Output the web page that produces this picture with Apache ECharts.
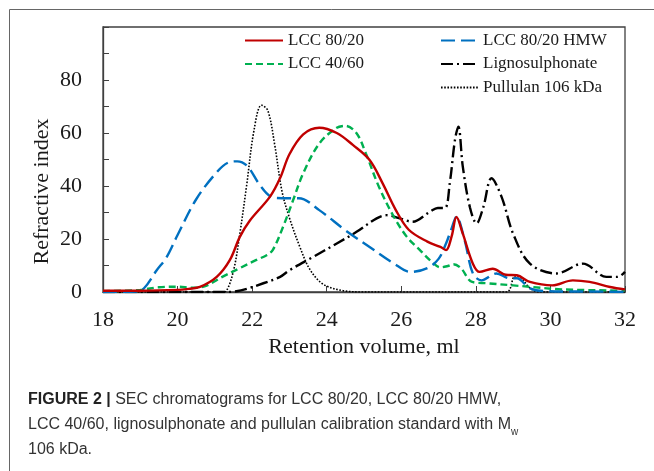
<!DOCTYPE html>
<html>
<head>
<meta charset="utf-8">
<script src="https://cdn.jsdelivr.net/npm/echarts@6/dist/echarts.min.js"></script>
<style>
html,body{margin:0;padding:0;background:#fff;}
#chart{width:654px;height:471px;}
</style>
</head>
<body>
<div id="chart"></div>
<script>
// ---- data ----
var xTicks = [18, 20, 22, 24, 26, 28, 30, 32];
var yTicks = [0, 20, 40, 60, 80];

var lcc8020X = [18, 19, 20, 20.3, 20.6, 21.05, 21.4, 21.67, 21.94, 22.48, 22.75, 23.0, 23.37, 23.8, 24.27, 24.7, 25.15, 25.5, 25.85, 26.2, 26.7, 27.05, 27.2, 27.35, 27.48, 27.65, 27.92, 28.1, 28.45, 28.8, 29.1, 29.45, 30.05, 30.6, 31.05, 31.6, 32];
var lcc8020Y = [0.5, 0.5, 0.8, 1.2, 1.9, 5.7, 12, 20.8, 27, 36, 43, 52, 59.5, 62, 60, 55.5, 49.8, 41, 31, 23.5, 19, 17, 15.8, 21, 28.3, 22, 10.7, 7.6, 8.8, 6.5, 6.3, 3.8, 2.5, 4.4, 3.8, 1.9, 1];

var hmwX = [18, 18.9, 19.1, 19.44, 19.7, 20.0, 20.5, 21.05, 21.35, 21.6, 21.87, 22.2, 22.5, 22.8, 23.25, 23.8, 24.5, 25.15, 25.8, 26.25, 26.7, 27.0, 27.2, 27.35, 27.48, 27.7, 27.92, 28.15, 28.55, 28.9, 29.1, 29.45, 29.9, 30.5, 31, 32];
var hmwY = [0, 0.2, 1.4, 8.2, 13, 21.5, 35, 45.2, 48.8, 49.3, 47.5, 40.5, 36, 35.4, 35.4, 30.9, 23.3, 17, 10.8, 7.6, 9, 12.5, 18.3, 24, 28.4, 19.5, 7, 4.4, 7, 5.2, 5.2, 1.4, 0.3, 0.2, 0.2, 0];

var lcc4060X = [18, 19, 19.5, 20, 20.4, 20.7, 21.2, 21.67, 22.1, 22.4, 22.56, 22.83, 23.1, 23.37, 23.8, 24.25, 24.5, 24.8, 25.05, 25.4, 25.8, 26.15, 26.5, 26.85, 27.05, 27.25, 27.4, 27.6, 27.9, 28.3, 29, 29.5, 30.3, 32];
var lcc4060Y = [0.3, 0.8, 1.8, 2.0, 1.6, 2.0, 5.7, 9, 12, 14, 16, 24.6, 34.7, 44.8, 56, 61.8, 62.7, 59.9, 52.3, 39.7, 28.4, 20.8, 15.8, 11, 9.3, 9.8, 10.5, 9, 3.8, 3.3, 2.5, 1.9, 1.0, 0.5];

var lignoX = [18, 21.3, 21.7, 22.3, 22.75, 23.0, 23.63, 24.27, 24.8, 25.34, 25.6, 25.96, 26.3, 26.77, 26.98, 27.17, 27.3, 27.44, 27.53, 27.65, 27.84, 28.02, 28.2, 28.42, 28.69, 29.0, 29.45, 30.16, 30.87, 31.5, 31.8, 32];
var lignoY = [0, 0, 0.6, 3.3, 5.7, 8.2, 13.2, 18.3, 22.7, 27.8, 29, 27.8, 26.5, 30.3, 31.7, 31.7, 41, 57.4, 62.4, 47.3, 32, 25.9, 32, 42.9, 35.9, 22, 10.7, 7, 10.7, 5.7, 5.7, 7.6];

var pullulanX = [18, 21.2, 21.3, 21.5, 21.67, 21.85, 22.05, 22.25, 22.42, 22.6, 22.8, 23.0, 23.28, 23.55, 23.9, 24.4, 25, 28.82, 29.05, 29.2, 29.45, 29.7, 32];
var pullulanY = [0, 0, 0.3, 8, 22, 40, 61, 70.5, 68.5, 56, 38, 28, 17, 8.5, 3, 0.6, 0, 0, 6.0, 5.5, 1.5, 0, 0];

var seriesNames = ['LCC 80/20', 'LCC 80/20 HMW', 'LCC 40/60', 'Lignosulphonate', 'Pullulan 106 kDa'];

function pairs(xs, ys) { return xs.map(function (x, i) { return [x, ys[i]]; }); }

var SERIF = '"Liberation Serif", "Times New Roman", serif';
var SANS = '"Liberation Sans Narrow", "Liberation Sans", Arial, sans-serif';

var chart = echarts.init(document.getElementById('chart'), null, { renderer: 'canvas' });

function lineSeries(name, xs, ys, color, width, type, z) {
  return {
    name: name, type: 'line', data: pairs(xs, ys), symbol: 'none', smooth: 0.35,
    z: z, animation: false,
    lineStyle: { color: color, width: width, type: type, cap: 'butt' },
    itemStyle: { color: color }
  };
}

var legendCommon = {
  orient: 'vertical', top: 32, padding: 0,
  itemHeight: 14, itemGap: 6.5,
  itemStyle: { opacity: 0, borderWidth: 0 },
  textStyle: { fontFamily: SERIF, fontSize: 17, lineHeight: 17, color: '#1a1a1a' }
};

var option = {
  animation: false,
  backgroundColor: '#ffffff',
  title: {
    left: 23, top: 382,
    text: '{b|FIGURE 2 |} SEC chromatograms for LCC 80/20, LCC 80/20 HMW,\nLCC 40/60, lignosulphonate and pullulan calibration standard with M{s|w}\n106 kDa.',
    textStyle: {
      fontFamily: SANS, fontSize: 16, fontWeight: 'normal', color: '#333', lineHeight: 25,
      rich: {
        b: { fontFamily: SANS, fontSize: 16, fontWeight: 'bold', color: '#222', lineHeight: 25 },
        s: { fontFamily: SANS, fontSize: 10, color: '#333', lineHeight: 14, verticalAlign: 'bottom' }
      }
    }
  },
  graphic: [{
    type: 'polyline', silent: true,
    shape: { points: [[9.5, 471], [9.5, 9.5], [654, 9.5]] },
    style: { stroke: '#666', lineWidth: 1, fill: null }
  }],
  legend: [
    Object.assign({}, legendCommon, { left: 244, itemWidth: 38, data: ['LCC 80/20', 'LCC 40/60'] }),
    Object.assign({}, legendCommon, { left: 440, itemWidth: 37, data: ['LCC 80/20 HMW', 'Lignosulphonate', 'Pullulan 106 kDa'] })
  ],
  grid: {
    left: 103, right: 29, top: 27, bottom: 179,
    show: true, borderColor: '#404040', borderWidth: 1.3, backgroundColor: 'transparent'
  },
  xAxis: {
    type: 'value', min: 18, max: 32, interval: 2,
    name: 'Retention volume, ml', nameLocation: 'middle', nameGap: 44, nameMoveOverlap: false,
    nameTextStyle: { fontFamily: SERIF, fontSize: 22, color: '#1a1a1a' },
    axisLine: { show: true, lineStyle: { color: '#404040', width: 1.3 } },
    axisTick: { show: true, inside: true, length: 6, lineStyle: { color: '#404040' } },
    axisLabel: { fontFamily: SERIF, fontSize: 22, color: '#1a1a1a', margin: 17,
      formatter: function (v) { return xTicks.indexOf(v) >= 0 ? String(v) : ''; } },
    splitLine: { show: false }
  },
  yAxis: {
    type: 'value', min: 0, max: 100, interval: 20,
    name: 'Refractive index', nameLocation: 'middle', nameGap: 50, nameRotate: 90, nameMoveOverlap: false,
    nameTextStyle: { fontFamily: SERIF, fontSize: 22, color: '#1a1a1a', padding: [0, 64, 0, 0] },
    axisLine: { show: true, lineStyle: { color: '#404040', width: 1.3 } },
    axisTick: { show: true, inside: true, length: 6, lineStyle: { color: '#404040' } },
    minorTick: { show: true, splitNumber: 2, length: 6, lineStyle: { color: '#404040' } },
    axisLabel: { fontFamily: SERIF, fontSize: 22, color: '#1a1a1a', margin: 21,
      formatter: function (v) { return yTicks.indexOf(v) >= 0 ? String(v) : ''; } },
    splitLine: { show: false }
  },
  series: [
    lineSeries(seriesNames[0], lcc8020X, lcc8020Y, '#c00000', 2.4, 'solid', 5),
    lineSeries(seriesNames[1], hmwX, hmwY, '#0070c0', 2.4, [14, 6], 4),
    lineSeries(seriesNames[2], lcc4060X, lcc4060Y, '#00b050', 2.4, [7, 4], 3),
    lineSeries(seriesNames[3], lignoX, lignoY, '#000000', 2.4, [12, 4, 2, 4], 2),
    lineSeries(seriesNames[4], pullulanX, pullulanY, '#000000', 1.6, [1.6, 1.6], 1)
  ]
};
chart.setOption(option);
</script>
</body>
</html>
